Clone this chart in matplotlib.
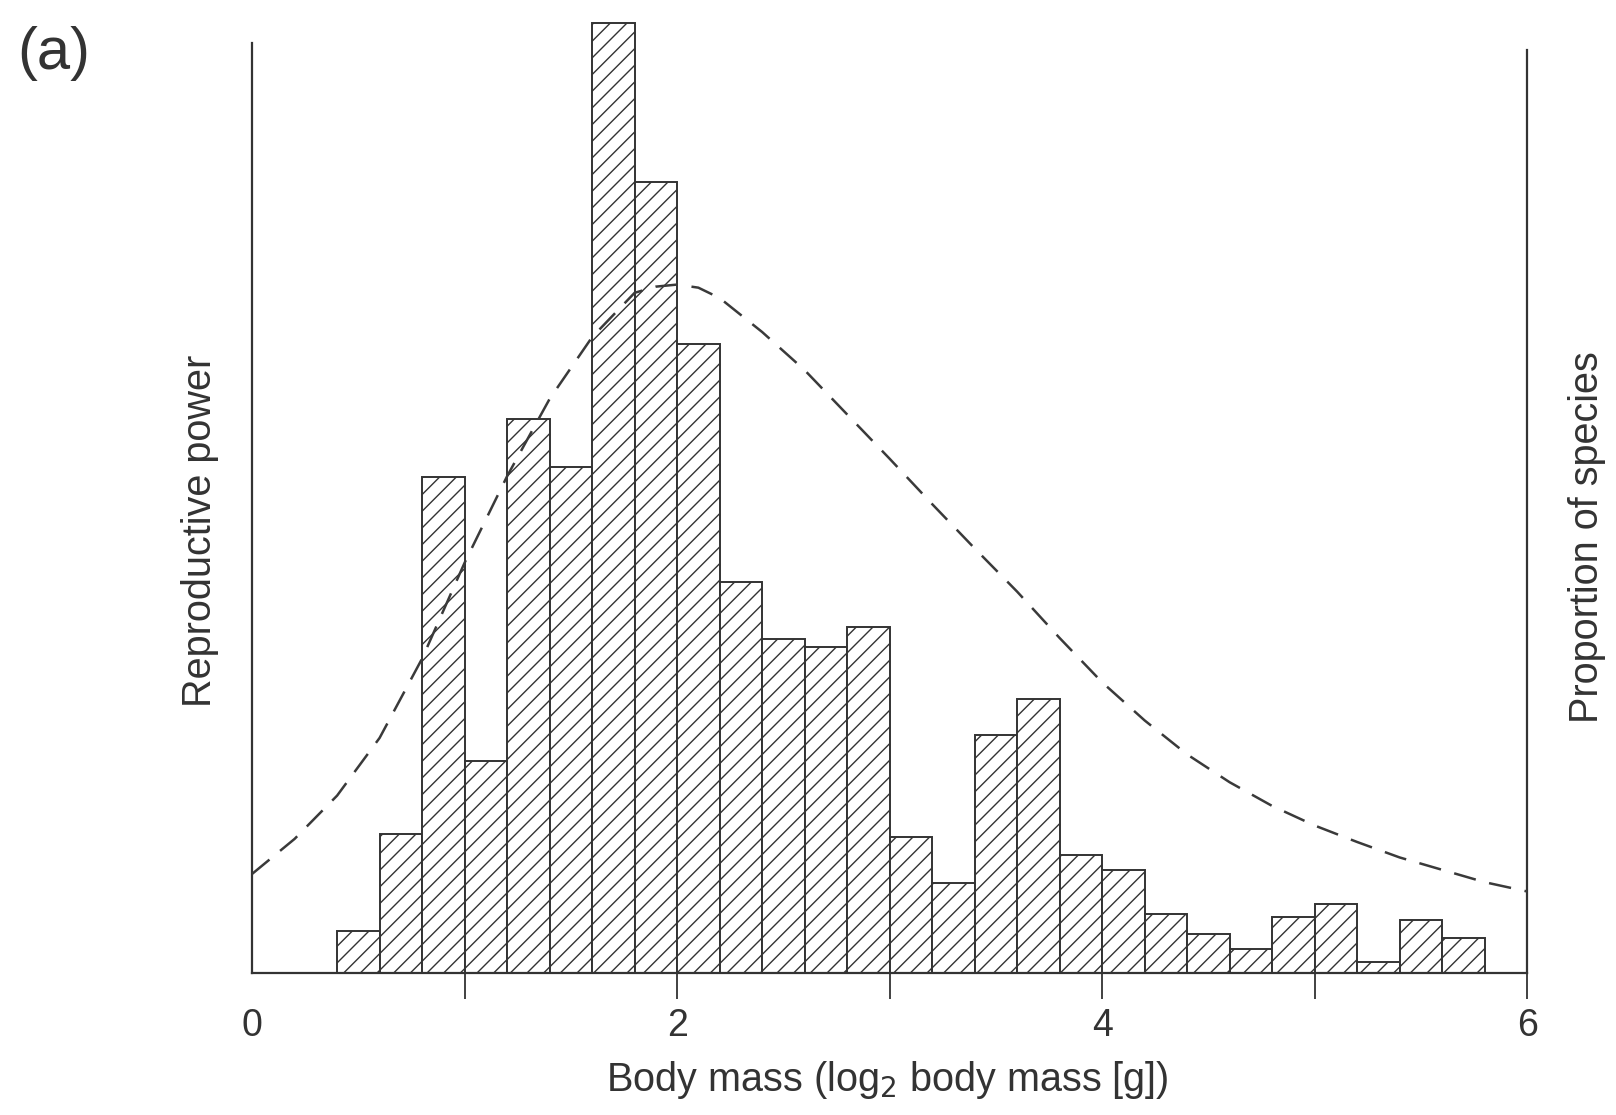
import matplotlib.pyplot as plt
import numpy as np

plt.rcParams['font.family'] = ['Liberation Sans', 'DejaVu Sans']
plt.rcParams['hatch.linewidth'] = 1.0
plt.rcParams['hatch.color'] = '#3a3a3a'

# histogram bins (log2 body mass), width 0.2
bin_left = [0.4, 0.6, 0.8, 1.0, 1.2, 1.4, 1.6, 1.8, 2.0, 2.2, 2.4, 2.6, 2.8, 3.0,
            3.2, 3.4, 3.6, 3.8, 4.0, 4.2, 4.4, 4.6, 4.8, 5.0, 5.2, 5.4, 5.6]
species = [41, 135, 481, 206, 538, 491, 922, 768, 610, 379, 324, 316, 336, 132,
           87, 231, 266, 114, 100, 57, 38, 23, 54, 67, 11, 51, 34]

# reproductive power curve (dashed)
curve_x = [0.0, 0.2, 0.4, 0.6, 0.8, 1.0, 1.2, 1.4, 1.6, 1.8, 1.9, 2.0, 2.1, 2.2,
           2.4, 2.6, 2.8, 3.0, 3.2, 3.4, 3.6, 3.8, 4.0, 4.2, 4.4, 4.6, 4.8, 5.0,
           5.2, 5.4, 5.6, 5.8, 6.0]
curve_y = [96, 130, 172, 228, 305, 398, 482, 557, 617, 660, 666, 668, 665, 655,
           622, 585, 542, 499, 455, 412, 370, 325, 282, 245, 212, 185, 162, 143,
           127, 112, 100, 88, 79]

fig = plt.figure(figsize=(16.16, 11.15), dpi=100)
ax = fig.add_axes([0.156, 0.1275, 0.789, 0.864])

ax.bar(bin_left, species, width=0.2, align='edge', facecolor='white',
       edgecolor='#333333', linewidth=1.4, hatch='//', zorder=2)
ax.plot(curve_x, curve_y, color='#3a3a3a', lw=1.8, linestyle=(0, (9, 5.5)), zorder=3)

ax.set_xlim(0, 6)
ax.set_ylim(0, 935)
ax.set_yticks([])
ax.set_xticks([0, 1, 2, 3, 4, 5, 6])
ax.set_xticklabels(['0', '', '2', '', '4', '', '6'], fontsize=27, color='#333333')
ax.tick_params(axis='x', length=19, width=1.3, color='#333333', pad=6)
ax.xaxis.get_major_ticks()[0].tick1line.set_visible(False)

for s in ['left', 'right', 'bottom']:
    ax.spines[s].set_color('#333333')
    ax.spines[s].set_linewidth(1.6)
ax.spines['top'].set_visible(False)
ax.spines['left'].set_bounds(0, 902)
ax.spines['right'].set_bounds(0, 896)

fig.text(0.124, 0.524, 'Reproductive power', rotation=90, fontsize=28.5,
         color='#333333', ha='center', va='center')
fig.text(0.982, 0.518, 'Proportion of species', rotation=90, fontsize=28.5,
         color='#333333', ha='center', va='center')
fig.text(0.549, 0.031, 'Body mass (log$_2$ body mass [g])', fontsize=28.5,
         color='#333333', ha='center', va='center')
fig.text(0.033, 0.952, '(a)', fontsize=43, color='#333333', ha='center', va='center')

fig.savefig('out.png')
plt.close()
